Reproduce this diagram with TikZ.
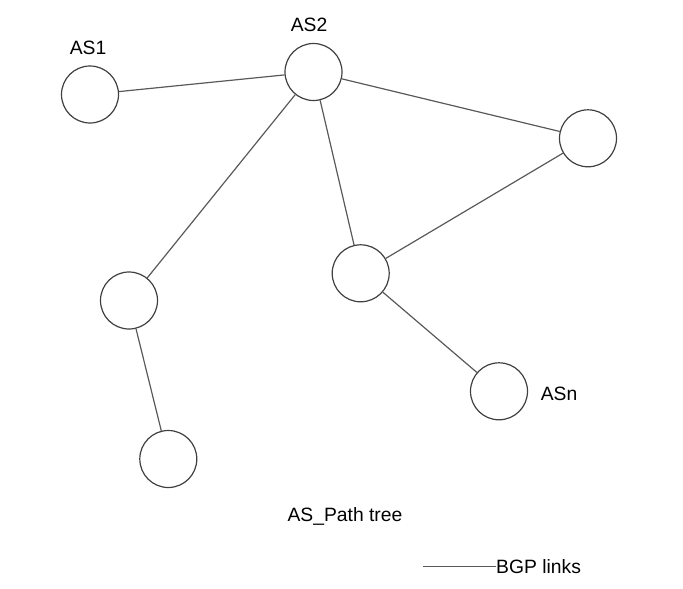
\documentclass[tikz,border=0pt]{standalone}
\usepackage{fontspec}
\setmainfont{Liberation Sans}
\begin{document}
\begin{tikzpicture}[x=1pt,y=-1pt,
  asnode/.style={circle,draw=black!75,line width=1.2pt,minimum size=57pt,inner sep=0pt},
  link/.style={draw=black!65,line width=1.2pt},
  lbl/.style={inner sep=0pt,font=\fontsize{19.3}{22}\selectfont}]
\useasboundingbox (0,0) rectangle (683,589);
\node[asnode] (as1) at (90,94.5) {};
\node[asnode] (as2) at (313.5,72) {};
\node[asnode] (r) at (588,138.3) {};
\node[asnode] (m) at (360.7,273.3) {};
\node[asnode] (lm) at (129,300.5) {};
\node[asnode] (bl) at (168.3,459) {};
\node[asnode] (asn) at (499,391.3) {};
\node[lbl] (t1) at (88,47.5) {AS1};
\node[lbl] (t2) at (309,25) {AS2};
\node[lbl] (tn) at (559,393.5) {ASn};
\node[lbl] (title) at (345,516.5) {AS\_Path tree};
\node[lbl,anchor=west] (leg) at (496,566.5) {BGP links};
\coordinate (legs) at (423,566.5);
\draw[link] (as1) -- (as2);
\draw[link] (as2) -- (r);
\draw[link] (as2) -- (lm);
\draw[link] (as2) -- (m);
\draw[link] (m) -- (r);
\draw[link] (m) -- (asn);
\draw[link] (lm) -- (bl);
\draw[link] (legs) -- (leg.west);
\end{tikzpicture}
\end{document}
